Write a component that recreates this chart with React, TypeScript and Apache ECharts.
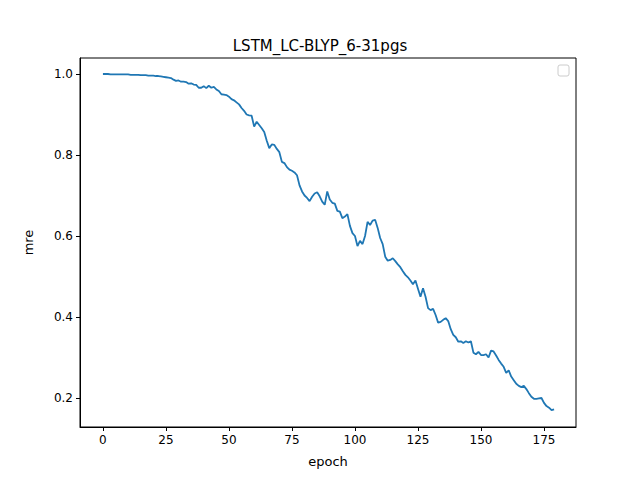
import React, { useEffect, useRef } from "react";
import * as echarts from "echarts";

const epochs: number[] = Array.from({ length: 180 }, (_, i) => i);
const mre: number[] = [
  1.0, 1.0, 1.0, 0.999, 0.999, 0.999, 0.999, 0.999, 0.999, 0.999,
  0.999, 0.998, 0.998, 0.998, 0.998, 0.997, 0.997, 0.997, 0.996, 0.996,
  0.996, 0.995, 0.995, 0.994, 0.993, 0.992, 0.991, 0.99, 0.986, 0.983,
  0.984, 0.981, 0.981, 0.98, 0.976, 0.977, 0.974, 0.973, 0.966, 0.966,
  0.97, 0.965, 0.971, 0.966, 0.968, 0.962, 0.958, 0.95, 0.949, 0.948,
  0.944, 0.938, 0.935, 0.93, 0.925, 0.916, 0.909, 0.9, 0.898, 0.897,
  0.87, 0.882, 0.874, 0.866, 0.857, 0.835, 0.817, 0.826, 0.825, 0.815,
  0.807, 0.783, 0.78, 0.77, 0.764, 0.761, 0.757, 0.75, 0.725, 0.71,
  0.7, 0.694, 0.686, 0.697, 0.705, 0.708, 0.698, 0.685, 0.677, 0.71,
  0.69, 0.682, 0.68, 0.662, 0.66, 0.644, 0.648, 0.654, 0.625, 0.607,
  0.6, 0.575, 0.588, 0.58, 0.6, 0.635, 0.627, 0.638, 0.64, 0.62,
  0.595, 0.58, 0.549, 0.539, 0.541, 0.545, 0.538, 0.53, 0.523, 0.513,
  0.504, 0.498, 0.49, 0.481, 0.49, 0.47, 0.45, 0.471, 0.45, 0.422,
  0.417, 0.42, 0.405, 0.386, 0.388, 0.393, 0.397, 0.39, 0.37, 0.356,
  0.35, 0.339, 0.34, 0.336, 0.34, 0.337, 0.34, 0.312, 0.308, 0.314,
  0.306, 0.306, 0.308, 0.3, 0.317, 0.315, 0.305, 0.294, 0.285, 0.277,
  0.262, 0.268, 0.253, 0.244, 0.235, 0.23, 0.227, 0.23, 0.222, 0.212,
  0.203, 0.198, 0.198, 0.199, 0.2, 0.188, 0.18, 0.176, 0.17, 0.172,
];
const xTicks = [0, 25, 50, 75, 100, 125, 150, 175];
const yTicks = [0.2, 0.4, 0.6, 0.8, 1.0];

const font = "DejaVu Sans";

const App = () => {
  const ref = useRef<HTMLDivElement>(null);

  useEffect(() => {
    if (!ref.current) return;
    const chart = echarts.init(ref.current, undefined, { renderer: "svg" });
    chart.setOption({
      animation: false,
      backgroundColor: "#fff",
      title: {
        text: "LSTM_LC-BLYP_6-31pgs",
        left: "center",
        top: 33,
        textStyle: { fontFamily: font, fontSize: 15, fontWeight: "normal", color: "#000" },
      },
      grid: { left: 80, right: 64, top: 58, bottom: 53 },
      xAxis: {
        type: "value",
        min: -9.1,
        max: 187.7,
        name: "epoch",
        nameLocation: "middle",
        nameGap: 28,
        nameTextStyle: { fontFamily: font, fontSize: 13, color: "#000" },
        splitLine: { show: false },
        axisLine: { onZero: false, lineStyle: { color: "#000" } },
        axisTick: { customValues: xTicks, length: 4, lineStyle: { color: "#000" } },
        axisLabel: {
          customValues: xTicks,
          fontFamily: font,
          fontSize: 12,
          color: "#000",
          margin: 7,
        },
      },
      yAxis: {
        type: "value",
        min: 0.1284,
        max: 1.0395,
        name: "mre",
        nameLocation: "middle",
        nameGap: 45,
        nameTextStyle: { fontFamily: font, fontSize: 13, color: "#000" },
        splitLine: { show: false },
        axisLine: { show: true, onZero: false, lineStyle: { color: "#000" } },
        axisTick: { show: true, customValues: yTicks, length: 4, lineStyle: { color: "#000" } },
        axisLabel: {
          customValues: yTicks,
          fontFamily: font,
          fontSize: 12,
          color: "#000",
          margin: 7,
          formatter: (v: number) => v.toFixed(1),
        },
      },
      graphic: [
        {
          type: "rect",
          shape: { x: 80, y: 58, width: 496, height: 369 },
          style: { fill: "none", stroke: "#000", lineWidth: 1 },
          silent: true,
          z: 10,
        },
        {
          type: "rect",
          shape: { x: 558, y: 65, width: 11, height: 11, r: 2 },
          style: { fill: "#fff", stroke: "#ccc", lineWidth: 1 },
          z: 10,
        },
      ],
      series: [
        {
          type: "line",
          data: epochs.map((e, i) => [e, mre[i]]),
          showSymbol: false,
          lineStyle: { color: "#1f77b4", width: 1.8 },
          itemStyle: { color: "#1f77b4" },
        },
      ],
    });
    return () => chart.dispose();
  }, []);

  return <div ref={ref} style={{ width: 640, height: 480, margin: -8 }} />;
};

export default App;
